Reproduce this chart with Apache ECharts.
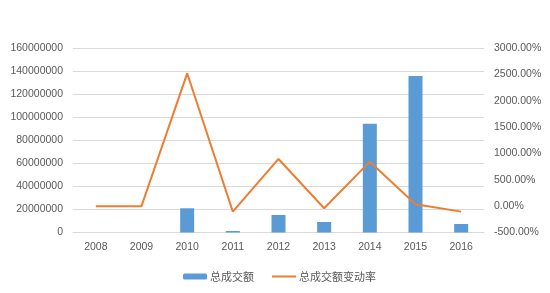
<!DOCTYPE html>
<html>
<head>
<meta charset="utf-8">
<script src="https://cdn.jsdelivr.net/npm/echarts@6/dist/echarts.min.js"></script>
<style>
html,body{margin:0;padding:0;background:#fff;}
#main{width:550px;height:293px;}
</style>
</head>
<body>
<div id="main"></div>
<script>
var categories = ['2008','2009','2010','2011','2012','2013','2014','2015','2016'];
var totalVolume = [0, 0, 21000000, 1300000, 15200000, 9100000, 94400000, 135700000, 7400000];
var changeRate = [0, 0, 2520, -104, 895, -40, 844, 36, -104];
var seriesNames = ['总成交额', '总成交额变动率'];

var chart = echarts.init(document.getElementById('main'), null, {renderer: 'canvas'});
var labelStyle = {color: '#595959', fontSize: 10.5, fontFamily: 'Liberation Sans, Arial, sans-serif'};
chart.setOption({
  animation: false,
  backgroundColor: '#ffffff',
  grid: {left: 73, right: 66, top: 48, bottom: 60.5, containLabel: false},
  legend: {
    data: [{name: seriesNames[0]}, {name: seriesNames[1], itemStyle: {opacity: 0}}],
    left: 178, top: 266,
    itemWidth: 24, itemHeight: 6, itemGap: 17,
    textStyle: {color: '#595959', fontSize: 11, fontFamily: 'Noto Sans CJK SC, sans-serif', padding: [0,0,0,-2]}
  },
  xAxis: {
    type: 'category',
    data: categories,
    axisLine: {show: true, lineStyle: {color: '#D9D9D9', width: 1}},
    axisTick: {show: false},
    axisLabel: Object.assign({margin: 9}, labelStyle)
  },
  yAxis: [{
    type: 'value', min: 0, max: 160000000, interval: 20000000,
    axisLine: {show: false}, axisTick: {show: false},
    splitLine: {lineStyle: {color: '#D9D9D9', width: 1}},
    axisLabel: Object.assign({margin: 10, formatter: function(v){return String(v);}}, labelStyle)
  }, {
    type: 'value', min: -500, max: 3000, interval: 500,
    axisLine: {show: false}, axisTick: {show: false},
    splitLine: {show: false},
    axisLabel: Object.assign({margin: 10, formatter: function(v){return v.toFixed(2) + '%';}}, labelStyle)
  }],
  series: [{
    name: seriesNames[0], type: 'bar', yAxisIndex: 0,
    data: totalVolume, barWidth: 14,
    itemStyle: {color: '#5B9BD5'}
  }, {
    name: seriesNames[1], type: 'line', yAxisIndex: 1,
    data: changeRate, symbol: 'none', showSymbol: false,
    lineStyle: {color: '#ED7D31', width: 2},
    itemStyle: {color: '#ED7D31'}
  }]
});
</script>
</body>
</html>
